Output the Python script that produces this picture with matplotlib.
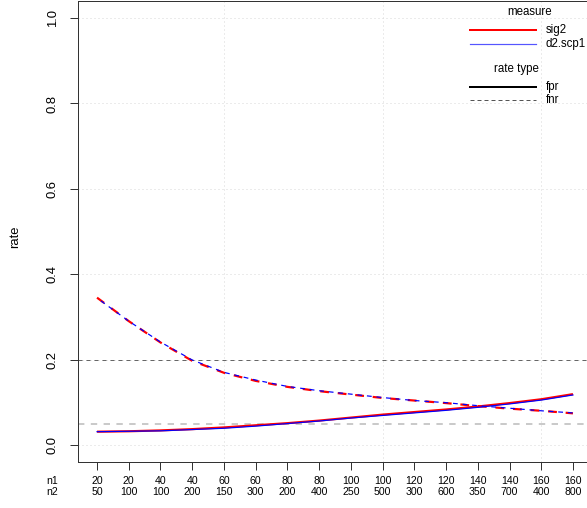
import matplotlib
matplotlib.use("Agg")
import matplotlib.pyplot as plt
from matplotlib.lines import Line2D

plt.rcParams['font.family'] = ['Liberation Sans', 'DejaVu Sans']

# sample size settings along the x axis
n1 = [20, 20, 40, 40, 60, 60, 80, 80, 100, 100, 120, 120, 140, 140, 160, 160]
n2 = [50, 100, 100, 200, 150, 300, 200, 400, 250, 500, 300, 600, 350, 700, 400, 800]

# false positive / false negative rates per measure
fpr_sig2 = [0.031, 0.032, 0.034, 0.037, 0.041, 0.046, 0.051, 0.057,
            0.064, 0.071, 0.077, 0.083, 0.090, 0.098, 0.107, 0.119]
fpr_scp1 = [0.031, 0.032, 0.033, 0.036, 0.039, 0.044, 0.050, 0.056,
            0.063, 0.069, 0.075, 0.081, 0.088, 0.096, 0.105, 0.117]
fnr_sig2 = [0.345, 0.290, 0.240, 0.197, 0.169, 0.150, 0.136, 0.126,
            0.118, 0.110, 0.104, 0.098, 0.091, 0.085, 0.080, 0.074]
fnr_scp1 = [0.344, 0.290, 0.241, 0.199, 0.170, 0.152, 0.137, 0.127,
            0.119, 0.111, 0.104, 0.099, 0.092, 0.086, 0.080, 0.075]

ref_levels = [0.2, 0.05]

W, H = 587, 508
fig = plt.figure(figsize=(W / 72, H / 72), dpi=72)


def fx(x):
    return x / W


def fy(y):
    return 1 - y / H


ax = fig.add_axes([fx(78), fy(462), fx(592) - fx(78), fy(1) - fy(462)])

x = list(range(1, len(n1) + 1))
ax.set_xlim(0.4, 16.6)
ax.set_ylim(-0.04, 1.04)

# background grid
for gx in [5, 10, 15]:
    ax.axvline(gx, color='#d8d8d8', lw=1, linestyle=(0, (1, 3)), zorder=0)
for gy in [0, 0.2, 0.4, 0.6, 0.8, 1.0]:
    ax.axhline(gy, color='#d8d8d8', lw=1, linestyle=(0, (1, 3)), zorder=0)

# reference levels
ax.axhline(ref_levels[0], color='#666666', lw=1, linestyle=(0, (4, 4)), zorder=1)
ax.axhline(ref_levels[1], color='#bebebe', lw=1.6, linestyle=(0, (4, 4)), zorder=1)

ax.plot(x, fpr_sig2, color='red', lw=2.2, solid_capstyle='butt', zorder=2)
ax.plot(x, fpr_scp1, color='blue', lw=1.2, zorder=3)
ax.plot(x, fnr_sig2, color='red', lw=2.2, linestyle=(0, (4, 4)), zorder=2)
ax.plot(x, fnr_scp1, color='blue', lw=1.2, linestyle=(4, (4, 4)), zorder=3)

for s in ax.spines.values():
    s.set_color('#333333')
    s.set_linewidth(1)

ax.set_yticks([0, 0.2, 0.4, 0.6, 0.8, 1.0])
ax.set_yticklabels(['0.0', '0.2', '0.4', '0.6', '0.8', '1.0'],
                   rotation=90, va='center', fontsize=13)
ax.set_xticks(x)
ax.set_xticklabels([f"{a}\n{b}" for a, b in zip(n1, n2)],
                   fontsize=10.5, linespacing=1.1)
ax.tick_params(axis='both', length=8, width=1, color='#333333')
ax.tick_params(axis='y', pad=11)
ax.tick_params(axis='x', pad=6)

fig.text(fx(15), fy(237), 'rate', rotation=90, fontsize=13, ha='center', va='center')
fig.text(fx(52), fy(481), 'n1', fontsize=10.5, ha='center', va='center')
fig.text(fx(52), fy(492), 'n2', fontsize=10.5, ha='center', va='center')

# legend: measure colours, then rate types
fig.text(fx(530), fy(12), 'measure', fontsize=11.5, ha='center', va='center')
fig.add_artist(Line2D([fx(470), fx(536)], [fy(30), fy(30)], color='red', lw=2))
fig.add_artist(Line2D([fx(470), fx(536)], [fy(44), fy(44)], color='#5555ff', lw=1.2))
fig.text(fx(546), fy(30), 'sig2', fontsize=11.5, ha='left', va='center')
fig.text(fx(546), fy(44), 'd2.scp1', fontsize=11.5, ha='left', va='center')

fig.text(fx(539), fy(69), 'rate type', fontsize=11.5, ha='right', va='center')
fig.add_artist(Line2D([fx(470), fx(536)], [fy(87), fy(87)], color='black', lw=2))
fig.add_artist(Line2D([fx(470), fx(536)], [fy(100), fy(100)], color='#555555', lw=1,
                      linestyle=(0, (4, 3))))
fig.text(fx(546), fy(87), 'fpr', fontsize=11.5, ha='left', va='center')
fig.text(fx(546), fy(100), 'fnr', fontsize=11.5, ha='left', va='center')

fig.savefig('out.png', dpi=72)
